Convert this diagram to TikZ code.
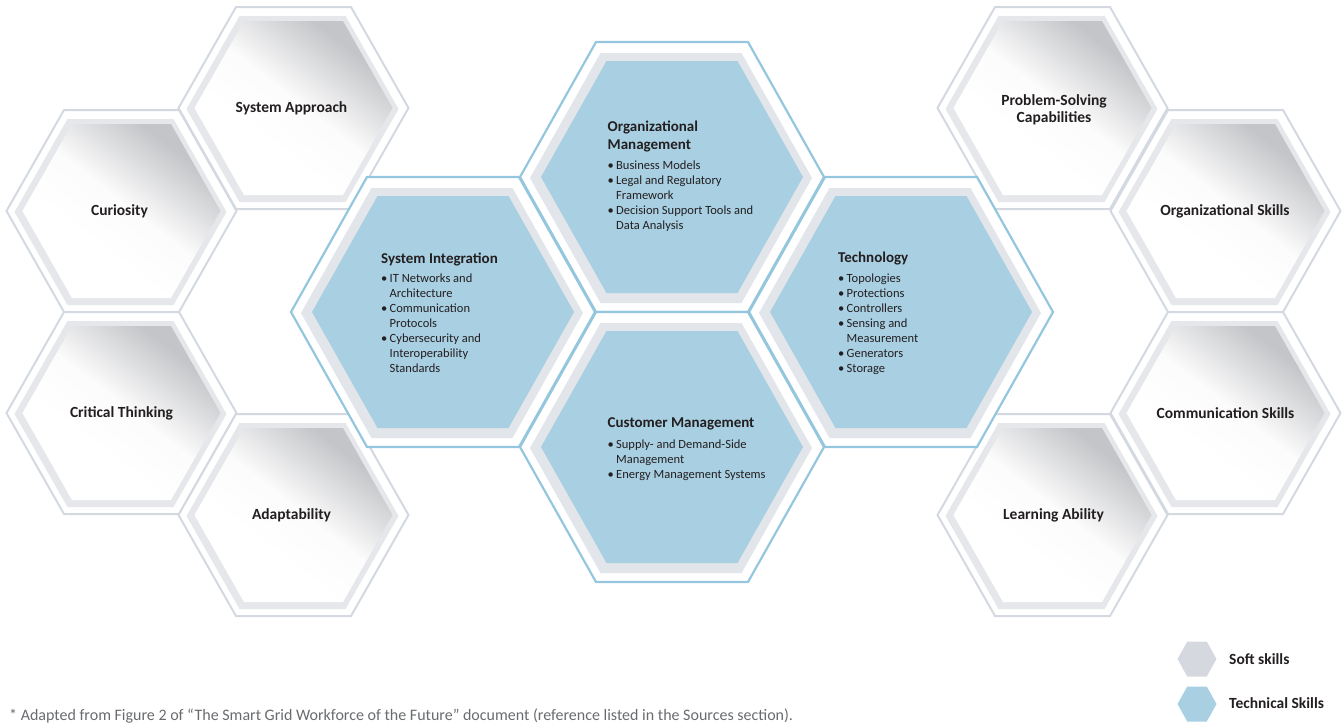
\documentclass[tikz,border=0pt]{standalone}
\usepackage{fontspec}
\setmainfont{Carlito}
\definecolor{softline}{RGB}{212,217,225}
\definecolor{softband}{RGB}{229,231,235}
\definecolor{softgray}{RGB}{196,197,200}
\definecolor{techline}{RGB}{148,199,222}
\definecolor{techfill}{RGB}{168,207,226}
\definecolor{techband}{RGB}{226,229,233}
\definecolor{txt}{RGB}{35,31,32}
\definecolor{notegray}{RGB}{105,107,110}
\definecolor{legsoft}{RGB}{213,217,223}

\pgfdeclareverticalshading{softsh}{100bp}{color(0bp)=(white); color(38bp)=(white); color(52bp)=(white!94!softgray); color(72bp)=(softgray); color(100bp)=(softgray)}

\newcommand{\hexp}[4]{({#1+(#3)},{#2}) -- ({#1+(#3)/2},{#2+(#4)}) -- ({#1-(#3)/2},{#2+(#4)}) -- ({#1-(#3)},{#2}) -- ({#1-(#3)/2},{#2-(#4)}) -- ({#1+(#3)/2},{#2-(#4)}) -- cycle}

\newcommand{\softhex}[2]{%
  \draw[line width=2pt, draw=softline, fill=white] \hexp{#1}{#2}{115}{101};
  \fill[softband] \hexp{#1-1}{#2+1}{106}{93};
  \shade[shading=softsh, shading angle=-38] \hexp{#1}{#2}{99}{87};
}
\newcommand{\techhex}[2]{%
  \draw[line width=2.2pt, draw=techline, fill=white] \hexp{#1}{#2}{152}{135};
  \fill[techband] \hexp{#1-1}{#2+1}{141}{125};
  \fill[techfill] \hexp{#1}{#2}{131}{116};
}
\newcommand{\bl}{\makebox[8.5pt][l]{\textbullet}}
\newcommand{\cn}{\hspace*{8.5pt}}

\tikzset{
  softlbl/.style={font=\bfseries\fontsize{15.5}{17}\selectfont, text=txt, inner sep=0, align=center},
  ttl/.style={anchor=base west, inner sep=0, font=\bfseries\fontsize{15}{18}\selectfont, text=txt},
  bul/.style={anchor=base west, inner sep=0, font=\fontsize{12.5}{15}\selectfont, text=txt},
  leglbl/.style={anchor=west, inner sep=0, font=\bfseries\fontsize{15.5}{17}\selectfont, text=txt},
}

\begin{document}
\begin{tikzpicture}[x=1pt,y=-1pt]
\useasboundingbox (0,0) rectangle (1344,723);

% soft skills, left cluster
\softhex{293.5}{108}
\softhex{121.5}{211}
\softhex{121.5}{413}
\softhex{293.5}{515}
% soft skills, right cluster
\softhex{1052.5}{108}
\softhex{1225.5}{211}
\softhex{1225.5}{413}
\softhex{1052.5}{515}

% technical skills
\techhex{443}{312}
\techhex{672}{177}
\techhex{672}{447}
\techhex{901}{312}

% soft labels
\node[softlbl] (sa) at (291.5,108) {System Approach};
\node[softlbl] (cu) at (119.5,211) {Curiosity};
\node[softlbl] (ct) at (121.5,413) {Critical Thinking};
\node[softlbl] (ad) at (291.5,515) {Adaptability};
\node[softlbl] (ps) at (1054,109.5) {Problem-Solving\\Capabilities};
\node[softlbl] (os) at (1225,211) {Organizational Skills};
\node[softlbl] (cs) at (1225.5,413) {Communication Skills};
\node[softlbl] (la) at (1053.5,515) {Learning Ability};

% Organizational Management
\node[ttl] (omt) at (607.5,131) {\begin{tabular}[t]{@{}l@{}}Organizational\\Management\end{tabular}};
\node[bul] (omb) at (607.5,169) {\begin{tabular}[t]{@{}l@{}}\bl Business Models\\ \bl Legal and Regulatory\\ \cn Framework\\ \bl Decision Support Tools and\\ \cn Data Analysis\end{tabular}};

% System Integration
\node[ttl] (sit) at (381,263) {System Integration};
\node[bul] (sib) at (381,282) {\begin{tabular}[t]{@{}l@{}}\bl IT Networks and\\ \cn Architecture\\ \bl Communication\\ \cn Protocols\\ \bl Cybersecurity and\\ \cn Interoperability\\ \cn Standards\end{tabular}};

% Technology
\node[ttl] (tet) at (838,262) {Technology};
\node[bul] (teb) at (838,282) {\begin{tabular}[t]{@{}l@{}}\bl Topologies\\ \bl Protections\\ \bl Controllers\\ \bl Sensing and\\ \cn Measurement\\ \bl Generators\\ \bl Storage\end{tabular}};

% Customer Management
\node[ttl] (cmt) at (607.5,427) {Customer Management};
\node[bul] (cmb) at (607.5,448) {\begin{tabular}[t]{@{}l@{}}\bl Supply- and Demand-Side\\ \cn Management\\ \bl Energy Management Systems\end{tabular}};

% legend
\fill[legsoft] \hexp{1197}{659}{19.5}{17.5};
\fill[techfill] \hexp{1197}{704}{19.5}{17.5};
\node[leglbl] (ls) at (1229,659) {Soft skills};
\node[leglbl] (lt) at (1229,703) {Technical Skills};

% footnote
\node[anchor=base west, inner sep=0, font=\fontsize{16}{18}\selectfont, text=notegray] (note) at (9,720) {* Adapted from Figure 2 of “The Smart Grid Workforce of the Future” document (reference listed in the Sources section).};
\end{tikzpicture}
\end{document}
